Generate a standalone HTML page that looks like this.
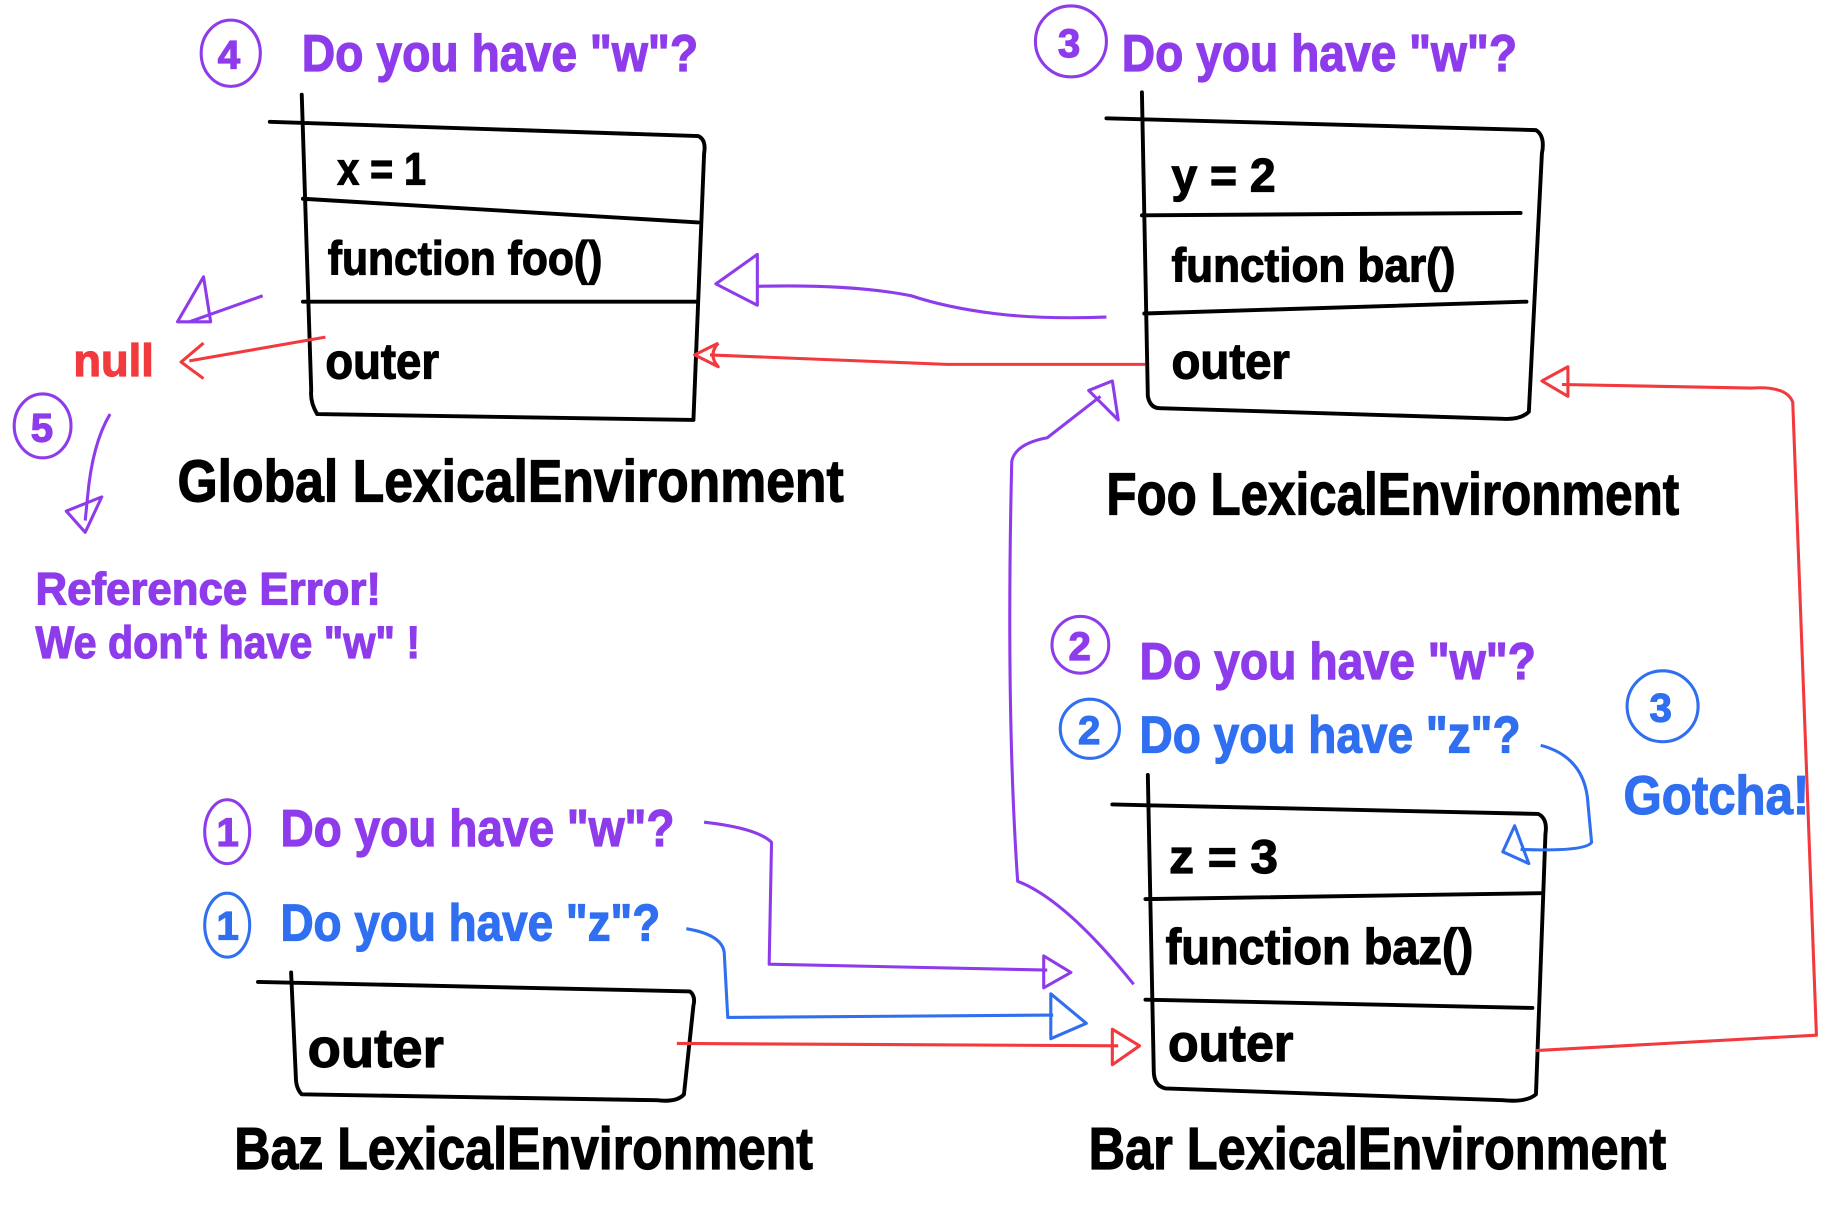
<!DOCTYPE html>
<html><head><meta charset="utf-8"><style>
html,body{margin:0;padding:0;background:#fff;width:1846px;height:1228px;overflow:hidden}
svg{display:block}
text{font-family:"Liberation Sans",sans-serif;font-weight:bold;stroke-width:1}
.k{fill:#000;stroke:#000}.p{fill:#8e3ceb;stroke:#8e3ceb}.b{fill:#2f6ff0;stroke:#2f6ff0}.r{fill:#f23a3e;stroke:#f23a3e}
.bx{fill:none;stroke:#000;stroke-width:3.3;stroke-linecap:round;stroke-linejoin:round}
.lp{fill:none;stroke:#8e3ceb;stroke-width:2.6;stroke-linejoin:round}
.lb{fill:none;stroke:#2f6ff0;stroke-width:2.6;stroke-linejoin:round}
.lr{fill:none;stroke:#f23a3e;stroke-width:2.6;stroke-linejoin:round}
</style></head><body>
<svg width="1846" height="1228" viewBox="0 0 1560 1038" preserveAspectRatio="none">
<path class="bx" d="M228,103 L590,115 Q597,118 595,130 L586,355 L268,350 Q262,340 263,330 L255,80 M256,168 L590,188 M256,255 L588,255"/>
<text class="k" x="285" y="156" font-size="38" textLength="75" lengthAdjust="spacingAndGlyphs">x = 1</text>
<text class="k" x="277" y="232" font-size="40" textLength="232" lengthAdjust="spacingAndGlyphs">function foo()</text>
<text class="k" x="275" y="320" font-size="42" textLength="96" lengthAdjust="spacingAndGlyphs">outer</text>
<text class="k" x="150" y="424" font-size="50" textLength="563" lengthAdjust="spacingAndGlyphs">Global LexicalEnvironment</text>
<path class="bx" d="M935,100 L1298,110 Q1306,115 1303,130 L1292,348 Q1285,355 1270,354 L980,345 Q972,345 970,335 L965,78 M965,182 L1285,180 M967,265 L1290,255"/>
<text class="k" x="990" y="162" font-size="40" textLength="88" lengthAdjust="spacingAndGlyphs">y = 2</text>
<text class="k" x="990" y="238" font-size="40" textLength="240" lengthAdjust="spacingAndGlyphs">function bar()</text>
<text class="k" x="990" y="320" font-size="42" textLength="100" lengthAdjust="spacingAndGlyphs">outer</text>
<text class="k" x="935" y="435" font-size="50" textLength="484" lengthAdjust="spacingAndGlyphs">Foo LexicalEnvironment</text>
<path class="bx" d="M940,680 L1300,688 Q1308,692 1306,705 L1298,925 Q1290,932 1270,930 L985,920 Q975,918 975,905 L970,655 M968,760 L1302,755 M968,845 L1295,852"/>
<text class="k" x="988" y="738" font-size="40" textLength="92" lengthAdjust="spacingAndGlyphs">z = 3</text>
<text class="k" x="985" y="815" font-size="42" textLength="260" lengthAdjust="spacingAndGlyphs">function baz()</text>
<text class="k" x="987" y="897" font-size="44" textLength="106" lengthAdjust="spacingAndGlyphs">outer</text>
<text class="k" x="920" y="988" font-size="50" textLength="488" lengthAdjust="spacingAndGlyphs">Bar LexicalEnvironment</text>
<path class="bx" d="M218,830 L583,838 Q588,842 586,850 L578,925 Q572,932 555,930 L255,925 Q250,920 250,910 L246,822"/>
<text class="k" x="260" y="902" font-size="46" textLength="115" lengthAdjust="spacingAndGlyphs">outer</text>
<text class="k" x="198" y="988" font-size="50" textLength="489" lengthAdjust="spacingAndGlyphs">Baz LexicalEnvironment</text>
<text class="p" x="255" y="60" font-size="44" textLength="335" lengthAdjust="spacingAndGlyphs">Do you have "w"?</text>
<text class="p" x="948" y="60" font-size="44" textLength="334" lengthAdjust="spacingAndGlyphs">Do you have "w"?</text>
<text class="p" x="963" y="574" font-size="44" textLength="335" lengthAdjust="spacingAndGlyphs">Do you have "w"?</text>
<text class="b" x="963" y="636" font-size="44" textLength="322" lengthAdjust="spacingAndGlyphs">Do you have "z"?</text>
<text class="p" x="237" y="715" font-size="44" textLength="333" lengthAdjust="spacingAndGlyphs">Do you have "w"?</text>
<text class="b" x="237" y="795" font-size="44" textLength="321" lengthAdjust="spacingAndGlyphs">Do you have "z"?</text>
<text class="b" x="1372" y="688" font-size="46" textLength="157" lengthAdjust="spacingAndGlyphs">Gotcha!</text>
<text class="p" x="30" y="511" font-size="38" textLength="292" lengthAdjust="spacingAndGlyphs">Reference Error!</text>
<text class="p" x="30" y="556" font-size="38" textLength="325" lengthAdjust="spacingAndGlyphs">We don't have "w" !</text>
<text class="r" x="62" y="318" font-size="38" textLength="68" lengthAdjust="spacingAndGlyphs">null</text>
<g font-size="34">
<ellipse class="lp" cx="195" cy="45" rx="25" ry="28"/><text class="p" x="184" y="58">4</text>
<ellipse class="lp" cx="905" cy="35" rx="30" ry="30"/><text class="p" x="894" y="48">3</text>
<ellipse class="lp" cx="36" cy="360" rx="24" ry="27"/><text class="p" x="26" y="373">5</text>
<ellipse class="lp" cx="913" cy="545" rx="24" ry="24"/><text class="p" x="903" y="558">2</text>
<ellipse class="lb" cx="921" cy="616" rx="25" ry="25"/><text class="b" x="911" y="629">2</text>
<ellipse class="lb" cx="1405" cy="597" rx="30" ry="30"/><text class="b" x="1394" y="610">3</text>
<ellipse class="lp" cx="192" cy="703" rx="19" ry="27"/><text class="p" x="183" y="715">1</text>
<ellipse class="lb" cx="192" cy="782" rx="19" ry="27"/><text class="b" x="183" y="794">1</text>
</g>
<path class="lp" d="M935,268 Q880,270 840,265 Q800,260 770,250 Q720,240 640,242"/>
<path class="lp" d="M640,215 L605,240 L640,258 Z"/>
<path class="lr" d="M968,308 L800,308 L600,300"/>
<path class="lr" d="M607,290 L587,300 L607,310 Q598,300 607,290"/>
<path class="lr" d="M275,285 L160,305"/>
<path class="lr" d="M172,290 L153,306 L172,320"/>
<path class="lp" d="M222,250 L160,272 M172,234 L150,272 L178,272 Z"/>
<path class="lp" d="M93,350 Q78,375 74,420 L72,440 M56,432 L72,450 L86,420 Z"/>
<path class="lp" d="M958,832 Q900,760 860,745 Q850,600 855,390 Q858,375 885,370 L930,335"/>
<path class="lp" d="M920,330 L940,322 L945,355 Z"/>
<path class="lr" d="M1298,888 L1535,875 L1515,340 Q1510,326 1480,328 L1320,325"/>
<path class="lr" d="M1325,310 L1303,322 L1325,335 Z"/>
<path class="lp" d="M595,695 Q640,700 652,712 L650,815 L885,820"/>
<path class="lp" d="M882,808 L905,822 L882,835 Z"/>
<path class="lb" d="M580,785 Q610,790 612,805 L615,860 L890,858"/>
<path class="lb" d="M888,840 L918,865 L888,878 Z"/>
<path class="lr" d="M572,882 L945,884"/>
<path class="lr" d="M940,870 L963,884 L940,900 Z"/>
<path class="lb" d="M1302,630 Q1340,640 1342,680 L1345,712 Q1340,720 1285,718"/>
<path class="lb" d="M1270,720 L1280,698 L1292,730 Z"/>
</svg>
</body></html>
